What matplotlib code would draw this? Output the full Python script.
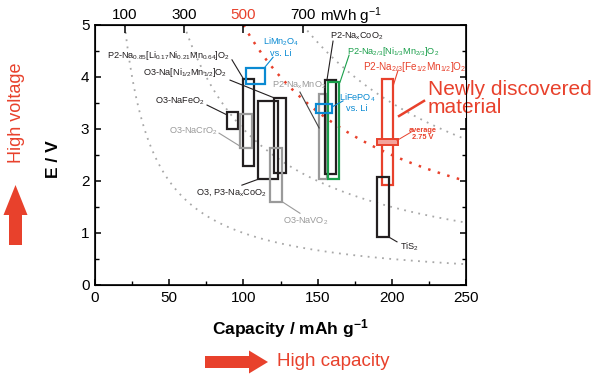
import numpy as np
import matplotlib
matplotlib.use("Agg")
import matplotlib.pyplot as plt
from matplotlib.patches import Rectangle, FancyArrow
from matplotlib.transforms import blended_transform_factory

plt.rcParams['font.family'] = ['Liberation Sans', 'DejaVu Sans']
plt.rcParams['mathtext.default'] = 'regular'

# ---------------- data ----------------
energies = [100, 300, 500, 700]          # mWh/g iso-energy lines
energy_colors = ['#9a9a9a', '#9a9a9a', '#e8412c', '#9a9a9a']

materials = [
    'P2-Na$_{0.85}$[Li$_{0.17}$Ni$_{0.21}$Mn$_{0.64}$]O$_2$',
    'O3-Na[Ni$_{1/2}$Mn$_{1/2}$]O$_2$',
    'O3-NaFeO$_2$',
    'O3-NaCrO$_2$',
    'O3, P3-Na$_x$CoO$_2$',
    'O3-NaVO$_2$',
    'P2-Na$_x$MnO$_2$',
    'P2-Na$_x$CoO$_2$',
    'P2-Na$_{2/3}$[Ni$_{1/3}$Mn$_{2/3}$]O$_2$',
    'LiFePO$_4$\nvs. Li',
    'LiMn$_2$O$_4$\nvs. Li',
    'P2-Na$_{2/3}$[Fe$_{1/2}$Mn$_{1/2}$]O$_2$',
    'TiS$_2$',
]
cap_lo = [99.5, 120.6, 89.0, 97.7, 109.6, 117.9, 151.0, 155.0, 156.8, 149.0, 101.5, 193.2, 190.2]
cap_hi = [107.3, 128.5, 96.6, 105.6, 123.1, 126.2, 156.5, 162.4, 164.4, 159.5, 114.5, 200.6, 198.1]
v_lo = [2.29, 2.16, 3.00, 2.63, 2.03, 1.60, 2.04, 2.13, 2.03, 3.30, 3.87, 1.92, 0.92]
v_hi = [3.96, 3.60, 3.33, 3.29, 3.54, 2.64, 3.67, 3.94, 3.90, 3.48, 4.18, 3.97, 2.07]

BLACK = '#231f20'; GRAY = '#9a9a9a'; GREEN = '#1a9f4b'; BLUE = '#0a8ad2'; RED = '#e8412c'
box_colors = [BLACK, BLACK, BLACK, GRAY, BLACK, GRAY, GRAY, BLACK, GREEN, BLUE, BLUE, RED, BLACK]
box_z = [3, 3, 3, 3, 3, 3, 3, 4, 5, 6, 6, 4, 4]

# label placement: (text x, text y, ha, leader start, leader end) in data coords
label_pos = [
    (91.0, 4.42, 'right', (92.3, 4.33), (99.7, 3.98)),
    (89.0, 4.08, 'right', (91.0, 3.94), (120.6, 3.60)),
    (74.1, 3.54, 'right', (75.5, 3.46), (89.0, 3.27)),
    (82.9, 2.95, 'right', (83.6, 2.92), (97.7, 2.67)),
    (68.0, 1.77, 'left', (99.0, 1.92), (109.6, 2.03)),
    (126.7, 1.23, 'left', (138.1, 1.38), (126.2, 1.60)),
    (119.3, 3.85, 'left', (138.1, 3.71), (151.0, 3.02)),
    (158.4, 4.79, 'left', (160.4, 4.69), (156.3, 3.94)),
    (169.8, 4.50, 'left', (171.2, 4.42), (165.1, 3.90)),
    (176.5, 3.51, 'center', (167.1, 3.54), (159.5, 3.42)),
    (125.3, 4.58, 'center', (120.0, 4.38), (114.5, 4.19)),
    (180.6, 4.19, 'left', (204.2, 4.13), (200.6, 3.80)),
    (205.5, 0.73, 'left', (198.1, 0.92), (203.5, 0.83)),
]

avg_voltage = 2.75
avg_cap = (190.0, 204.0)

xticks = [0, 50, 100, 150, 200, 250]
yticks = [0, 1, 2, 3, 4, 5]

# ---------------- figure ----------------
fig = plt.figure(figsize=(6, 3.75), dpi=100)
L, R, T, B = 95, 466, 25, 285
ax = fig.add_axes([L / 600, 1 - B / 375, (R - L) / 600, (B - T) / 375])
ax.set_xlim(0, 250)
ax.set_ylim(0, 5)

# iso-energy curves
for E, c in zip(energies, energy_colors):
    C = np.linspace(E / 5.0, 250, 300)
    if c == RED:
        ax.plot(C, E / C, color=c, lw=1.8, ls=(0, (1, 3.0)), zorder=2)
    else:
        ax.plot(C, E / C, color='#a8a8a8', lw=1.3, ls=(0, (1, 3)), zorder=2)

# boxes
for i in range(len(materials)):
    ax.add_patch(Rectangle((cap_lo[i], v_lo[i]), cap_hi[i] - cap_lo[i], v_hi[i] - v_lo[i],
                           fill=False, edgecolor=box_colors[i], lw=1.6, zorder=box_z[i]))

# average bar
ax.add_patch(Rectangle((avg_cap[0], avg_voltage - 0.06), avg_cap[1] - avg_cap[0], 0.12,
                       facecolor='#f3a39b', edgecolor=RED, lw=1.4, zorder=7))

# labels with leader lines
lab_colors = [BLACK, BLACK, BLACK, GRAY, BLACK, GRAY, GRAY, BLACK, GREEN, BLUE, BLUE, RED, BLACK]
for i, (tx, ty, ha, p0, p1) in enumerate(label_pos):
    c = lab_colors[i]
    fs = 6.6 if i != 11 else 7.2
    ax.text(tx, ty, materials[i], color=c, fontsize=fs, ha=ha, va='center',
            linespacing=1.05, zorder=8)
    lc = c
    if i == 6:
        lc = '#444444'
    ax.plot([p0[0], p1[0]], [p0[1], p1[1]], color=lc, lw=0.8, zorder=8)

# average annotation
ax.text(221.0, 2.91, 'average\n2.75 V', color=RED, fontsize=5.3, fontweight='bold',
        ha='center', va='center', linespacing=1.0, zorder=8)
ax.plot([213.0, 203.5], [2.94, 2.78], color=RED, lw=0.7, zorder=8)

# newly discovered
ax.text(224.4, 3.585, 'Newly discovered\nmaterial', color=RED, fontsize=15, ha='left',
        va='center', linespacing=0.92, zorder=9, clip_on=False,
        bbox=dict(facecolor='white', edgecolor='none', pad=0.5))
ax.plot([204.9, 221.7], [3.25, 3.54], color=RED, lw=1.8, zorder=8)

# axes styling
ax.set_xticks(xticks)
ax.set_yticks(yticks)
ax.set_xticks([25, 75, 125, 175, 225], minor=True)
ax.set_yticks(np.arange(0.5, 5, 1.0), minor=True)
ax.tick_params(axis='both', which='major', direction='in', labelsize=11, length=4,
               width=1.1, right=True, pad=4)
ax.tick_params(axis='both', which='minor', direction='in', length=3, width=1.0, right=True)
for s in ax.spines.values():
    s.set_linewidth(1.2)

# top energy axis
ax2 = ax.twiny()
ax2.set_xlim(0, 250)
ax2.set_xticks([E / 5.0 for E in energies])
ax2.set_xticklabels([str(E) for E in energies])
ax2.tick_params(axis='x', direction='in', length=6, width=1.1, labelsize=11, pad=2)
for lbl, c in zip(ax2.get_xticklabels(), energy_colors):
    lbl.set_color(RED if c == RED else 'black')
for tk, c in zip(ax2.xaxis.get_major_ticks(), energy_colors):
    if c == RED:
        tk.tick2line.set_color(RED)
tr = blended_transform_factory(ax.transData, ax.transAxes)
ax.text(151.6, 1.0 + 4 / 260, 'mWh g$^{-1}$', transform=tr, fontsize=11, ha='left',
        va='baseline', clip_on=False)

# outside annotations (pixel overlay)
ov = fig.add_axes([0, 0, 1, 1], zorder=-1)
ov.set_xlim(0, 600); ov.set_ylim(375, 0); ov.axis('off')
ov.text(17, 113, 'High voltage', color=RED, fontsize=13, rotation=90, ha='center', va='center')
ov.add_patch(FancyArrow(15.5, 245, 0, -60, width=13, head_width=24, head_length=30,
                        length_includes_head=True, color=RED, lw=0))
ov.text(53, 159, 'E / V', fontsize=12.5, fontweight='bold', rotation=90, ha='center', va='center')
ov.text(290, 329, 'Capacity / mAh g$^{-1}$', fontsize=12.5, fontweight='bold',
        ha='center', va='center')
ov.add_patch(FancyArrow(205, 362, 63, 0, width=12, head_width=23, head_length=19,
                        length_includes_head=True, color=RED, lw=0))
ov.text(277, 361, 'High capacity', color=RED, fontsize=13.5, ha='left', va='center')

fig.savefig('out.png', dpi=100)
